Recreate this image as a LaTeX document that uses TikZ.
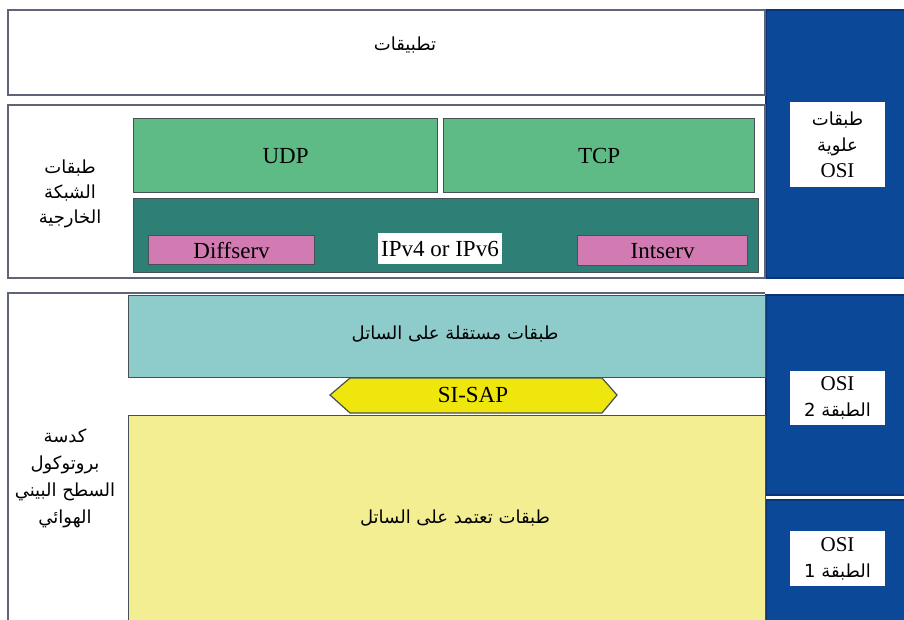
\documentclass[tikz,border=0pt]{standalone}
\usepackage{fontspec}
\setmainfont{Liberation Serif}
\newfontfamily\arabicfont[Script=Arabic]{DejaVu Sans}
\TeXXeTstate=1
\newcommand{\ar}[1]{\beginR #1\endR}
\newcommand{\arsmall}{\arabicfont\fontsize{18}{26}\selectfont}
\definecolor{bluecol}{RGB}{12,72,152}
\definecolor{bluedark}{RGB}{10,52,120}
\definecolor{udpgreen}{RGB}{94,187,134}
\definecolor{tealbox}{RGB}{46,128,118}
\definecolor{pinkbox}{RGB}{210,122,178}
\definecolor{cyanbox}{RGB}{142,204,204}
\definecolor{yellowbox}{RGB}{244,238,146}
\definecolor{sisap}{RGB}{238,230,12}
\definecolor{framecol}{RGB}{95,100,120}
\definecolor{boxline}{RGB}{70,80,85}
\begin{document}
\begin{tikzpicture}[x=1pt,y=-1pt,
  outerframe/.style={draw=framecol,line width=1.6pt},
  layerbox/.style={draw=boxline,line width=1.2pt,inner sep=0pt,anchor=north west},
  latin/.style={font=\fontsize{23}{26}\selectfont},
  arab/.style={font=\arabicfont\fontsize{18}{26}\selectfont,align=center},
  whitelabel/.style={fill=white,inner sep=0pt,minimum width=95pt,align=center,font=\fontsize{21}{26}\selectfont},
  bluecolumn/.style={fill=bluecol,draw=bluedark,line width=1.5pt}]
\useasboundingbox (0,0) rectangle (904,619);
% blue OSI column
\path[bluecolumn] (766,10) rectangle (906,278);
\path[bluecolumn] (766,295) rectangle (906,495);
\path[bluecolumn] (766,500) rectangle (906,625);
% outer frames
\draw[outerframe] (8,10) rectangle (765,95);
\draw[outerframe] (8,105) rectangle (765,278);
\draw[outerframe] (765,293) -- (8,293) -- (8,625);
% applications
\node[arab] (apps) at (405,45) {\ar{تطبيقات}};
% network layers
\node[layerbox,fill=udpgreen,minimum width=304pt,minimum height=74pt] (udpbox) at (133,118) {};
\node[latin] (udp) at (udpbox.center) {UDP};
\node[layerbox,fill=udpgreen,minimum width=311pt,minimum height=74pt] (tcpbox) at (443,118) {};
\node[latin] (tcp) at (tcpbox.center) {TCP};
\node[layerbox,fill=tealbox,minimum width=625pt,minimum height=74pt] (ipbox) at (133,198) {};
\node[layerbox,fill=pinkbox,minimum width=166pt,minimum height=29pt] (diffbox) at (148,235) {};
\node[latin] (diff) at (diffbox.center) {Diffserv};
\node[layerbox,fill=pinkbox,minimum width=170pt,minimum height=30pt] (intbox) at (577,235) {};
\node[latin] (int) at (intbox.center) {Intserv};
\node[latin,fill=white,inner sep=0pt,minimum width=124pt,minimum height=31pt] (ip) at (440,248.5) {IPv4 or IPv6};
% satellite layers
\node[layerbox,fill=cyanbox,minimum width=637pt,minimum height=82pt] (sibox) at (128,295) {};
\node[arab] (si) at (455,334) {\ar{طبقات مستقلة على الساتل}};
\node[layerbox,fill=yellowbox,minimum width=637pt,minimum height=212pt] (sdbox) at (128,415) {};
\node[arab] (sd) at (455,518) {\ar{طبقات تعتمد على الساتل}};
\draw[draw=boxline,line width=1.2pt,fill=sisap] (330,395) -- (350,378) -- (602,378) -- (617,395) -- (602,413) -- (350,413) -- cycle;
\node[latin] (sisap) at (473,395) {SI-SAP};
% left labels
\node[arab,font=\arabicfont\fontsize{18}{25}\selectfont] (net) at (70,194) {\ar{طبقات}\\\ar{الشبكة}\\\ar{الخارجية}};
\node[arab,font=\arabicfont\fontsize{18}{27}\selectfont] (air) at (65,478) {\ar{كدسة}\\\ar{بروتوكول}\\\ar{السطح البيني}\\\ar{الهوائي}};
% OSI labels
\node[whitelabel,minimum height=85pt] (upper) at (837.5,144.5) {{\arsmall\ar{طبقات}}\\{\arsmall\ar{علوية}}\\OSI};
\node[whitelabel,minimum height=54pt] (osi2) at (837.5,398) {OSI\\{\arsmall\ar{الطبقة 2}}};
\node[whitelabel,minimum height=55pt] (osi1) at (837.5,558.5) {OSI\\{\arsmall\ar{الطبقة 1}}};
\end{tikzpicture}
\end{document}
